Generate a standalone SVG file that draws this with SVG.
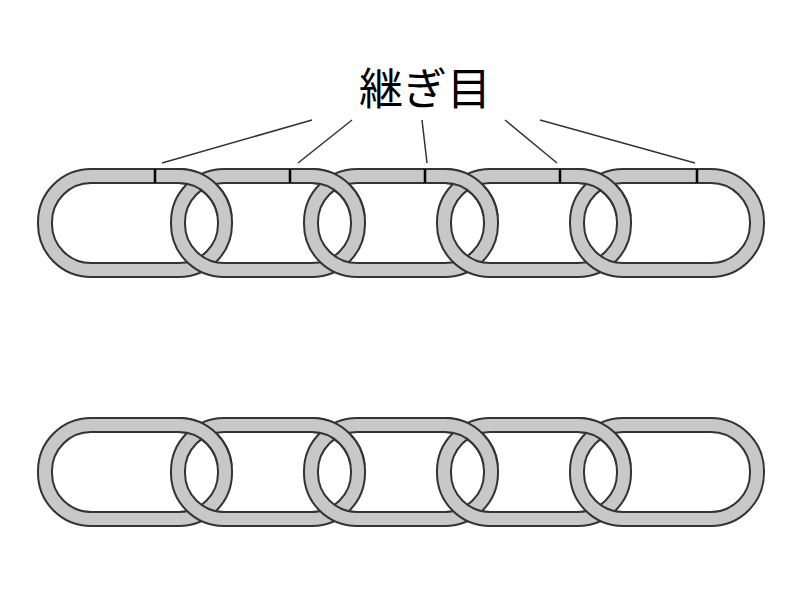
<svg xmlns="http://www.w3.org/2000/svg" xmlns:xlink="http://www.w3.org/1999/xlink" width="800" height="600" viewBox="0 0 800 600">
<defs>
<g id="link"><rect x="45" y="0" width="180" height="94" rx="46" ry="46" fill="none" stroke="#333" stroke-width="16"/><rect x="45" y="0" width="180" height="94" rx="46" ry="46" fill="none" stroke="#c8c8c8" stroke-width="12"/></g>
<clipPath id="tr"><rect x="165" y="-20" width="80" height="60"/></clipPath>
<g id="chain">
<use xlink:href="#link" x="0"/><use xlink:href="#link" x="133"/><use xlink:href="#link" x="266"/><use xlink:href="#link" x="399"/><use xlink:href="#link" x="532"/>
<g clip-path="url(#tr)"><use xlink:href="#link" x="0"/></g>
<g transform="translate(133 0)" clip-path="url(#tr)"><use xlink:href="#link"/></g>
<g transform="translate(266 0)" clip-path="url(#tr)"><use xlink:href="#link"/></g>
<g transform="translate(399 0)" clip-path="url(#tr)"><use xlink:href="#link"/></g>
</g>
</defs>
<rect width="800" height="600" fill="#fff"/>
<g id="chain-top" transform="translate(0 176)"><use xlink:href="#chain"/>
<g stroke="#000" stroke-width="2.5"><line x1="155" y1="-7" x2="155" y2="7"/><line x1="290" y1="-7" x2="290" y2="7"/><line x1="425" y1="-7" x2="425" y2="7"/><line x1="560" y1="-7" x2="560" y2="7"/><line x1="697" y1="-7" x2="697" y2="7"/></g></g>
<g id="chain-bottom" transform="translate(0 425)"><use xlink:href="#chain"/></g>
<g id="label"><text x="425" y="105" text-anchor="middle" font-family="Noto Sans CJK JP, sans-serif" font-size="44" fill="#000">継ぎ目</text></g>
<g id="connectors" stroke="#333" stroke-width="1.5"><line x1="312" y1="120" x2="162" y2="163"/><line x1="352" y1="120" x2="298" y2="163"/><line x1="422" y1="120" x2="427" y2="163"/><line x1="505" y1="120" x2="557" y2="163"/><line x1="540" y1="120" x2="695" y2="163"/></g>
</svg>
